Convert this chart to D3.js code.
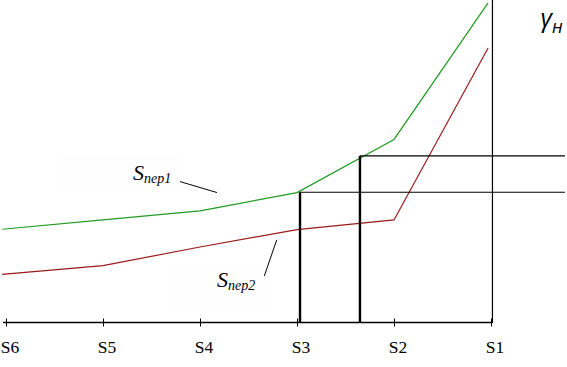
<!DOCTYPE html>
<html>
<head>
<meta charset="utf-8">
<script src="https://cdn.jsdelivr.net/npm/d3@7"></script>
<style>
  html, body { margin: 0; padding: 0; background: #fff; }
  svg { display: block; }
  text.lbl { font-family: "Liberation Serif", "Times New Roman", serif; }
</style>
</head>
<body>
<div id="chart"></div>
<script>
// ---- data ----
const categories = ["S6", "S5", "S4", "S3", "S2", "S1"];
const categoryPos = [6, 5, 4, 3, 2, 1];
const seriesX = [6.04, 5, 4, 3, 2, 1.03];
const seriesPer1 = [28.8, 31.7, 34.5, 40.2, 56.7, 99.1]; // green
const seriesPer2 = [14.8, 17.5, 23.3, 28.7, 31.7, 85.1]; // red
const markerX = [2.969, 2.351];
const markerY = [40.3, 51.6];
const markerEnd = 0.237;
const yAxisPos = 0.985;

// ---- layout ----
const W = 567, H = 367;
const svg = d3.select("#chart").append("svg").attr("width", W).attr("height", H);

const x = d3.scaleLinear().domain([6, 1]).range([6, 491]);
const y = d3.scaleLinear().domain([0, 100]).range([322, 0]);

// faint label backgrounds
svg.append("rect").attr("x", x(5.443)).attr("y", y(52.2)).attr("width", x(4.206) - x(5.443)).attr("height", y(40.4) - y(52.2)).attr("fill", "#fefefe");
svg.append("rect").attr("x", x(4.3)).attr("y", y(18.3)).attr("width", x(3.3) - x(4.3)).attr("height", y(3.4) - y(18.3)).attr("fill", "#fefefe");

// x axis
const xAxis = d3.axisBottom(x).tickValues(categoryPos).tickFormat("").tickSizeInner(4).tickSizeOuter(0);
const gx = svg.append("g").attr("transform", `translate(0,${y(0) + 0.5})`).call(xAxis);
gx.select(".domain").remove();
gx.selectAll(".tick line").attr("y1", -4).attr("y2", 4).attr("stroke", "#000");
svg.append("g").selectAll("text").data(categories).join("text")
  .attr("class", "lbl")
  .attr("x", (d, i) => x(categoryPos[i]) + 4)
  .attr("y", y(0) + 30.5)
  .attr("text-anchor", "middle")
  .attr("font-size", 17.5)
  .attr("fill", "#000")
  .text(d => d);
svg.append("line").attr("x1", x(6.03)).attr("x2", x(1)).attr("y1", y(0) + 0.5).attr("y2", y(0) + 0.5)
  .attr("stroke", "#000").attr("stroke-width", 1.3);

// y axis (vertical line)
svg.append("line").attr("x1", x(yAxisPos)).attr("x2", x(yAxisPos)).attr("y1", y(100)).attr("y2", y(-0.3))
  .attr("stroke", "#000").attr("stroke-width", 1.2);

// series lines
const line = d3.line().x((d, i) => x(seriesX[i])).y(d => y(d));
svg.append("path").datum(seriesPer1).attr("d", line).attr("fill", "none").attr("stroke", "#239a23").attr("stroke-width", 1.2);
svg.append("path").datum(seriesPer2).attr("d", line).attr("fill", "none").attr("stroke", "#9a1a1a").attr("stroke-width", 1.2);

// markers: vertical thick lines + horizontal lines
markerX.forEach((mx, i) => {
  svg.append("line").attr("x1", x(mx)).attr("x2", x(mx)).attr("y1", y(markerY[i])).attr("y2", y(0))
    .attr("stroke", "#000").attr("stroke-width", 2.4);
  svg.append("line").attr("x1", x(mx)).attr("x2", x(markerEnd)).attr("y1", y(markerY[i])).attr("y2", y(markerY[i]))
    .attr("stroke", "#000").attr("stroke-width", 1.1);
});

// annotations
function sLabel(sx, sv, sub) {
  const t = svg.append("text").attr("class", "lbl").attr("x", x(sx)).attr("y", y(sv))
    .style("font-style", "italic").attr("fill", "#000");
  t.append("tspan").style("font-size", "22px").text("S");
  t.append("tspan").style("font-size", "14px").attr("dy", 3).text(sub);
}
sLabel(4.691, 44.1, "пер1");
sLabel(3.825, 11.0, "пер2");
svg.append("line").attr("x1", x(4.206)).attr("y1", y(43.6)).attr("x2", x(3.825)).attr("y2", y(40.2))
  .attr("stroke", "#000").attr("stroke-width", 1);
svg.append("line").attr("x1", x(3.337)).attr("y1", y(14.3)).attr("x2", x(3.209)).attr("y2", y(25.5))
  .attr("stroke", "#000").attr("stroke-width", 1);

// gamma label
const g = svg.append("text").attr("x", x(0.49)).attr("y", y(91.5))
  .style("font-family", "'Open Sans', sans-serif").style("font-style", "italic").attr("fill", "#000");
g.append("tspan").style("font-size", "25px").text("γ");
g.append("tspan").style("font-size", "18px").attr("dy", 6).text("н");
</script>
</body>
</html>
